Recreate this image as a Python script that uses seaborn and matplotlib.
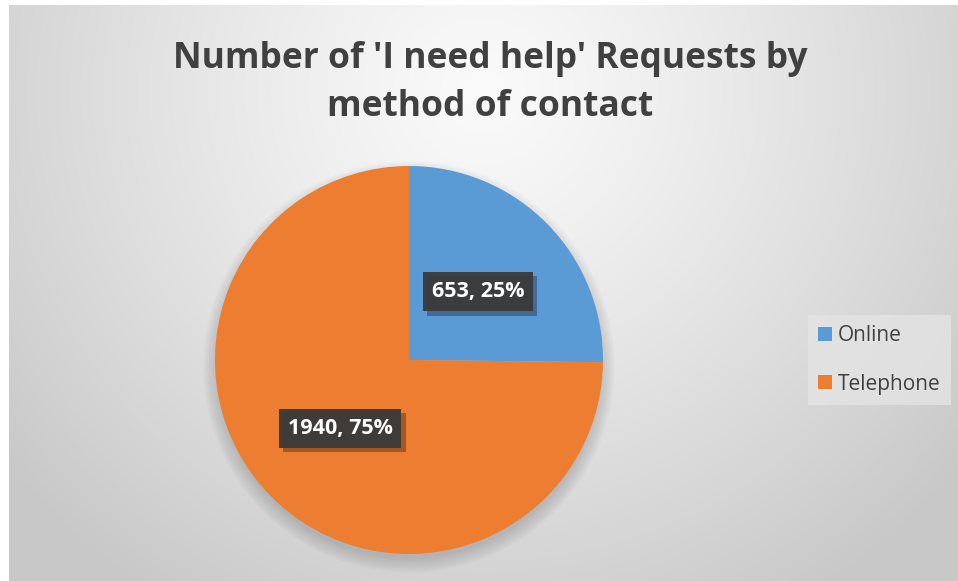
import numpy as np
import matplotlib
matplotlib.use("Agg")
import matplotlib.pyplot as plt
import matplotlib.patheffects as pe
from matplotlib.patches import Circle, Rectangle
import seaborn as sns

# ---- data ----
categories = ["Online", "Telephone"]
counts = [653, 1940]
colors = ["#5B9BD5", "#ED7D31"]
title = "Number of 'I need help' Requests by\nmethod of contact"

sns.set_theme(style="white")
plt.rcParams['font.family'] = ['Open Sans', 'DejaVu Sans']

W, H = 958, 581
fig = plt.figure(figsize=(W / 100, H / 100), dpi=100)
fig.patch.set_facecolor("white")

# background gradient panel
bg = fig.add_axes([9 / W, 0, 1 - 9 / W, 1 - 5 / H])
bg.set_axis_off()
yy, xx = np.mgrid[0:1:300j, 0:1:500j]
d = np.sqrt(((xx - 0.5) / 0.65) ** 2 + ((yy - 0.15) / 1.05) ** 2)
val = 250 - 50 * np.clip(d, 0, 1) ** 1.2
img = np.dstack([val, val, val]) / 255.0
bg.imshow(img, origin="upper", aspect="auto", extent=[0, 1, 0, 1], interpolation="bilinear")
bg.set_xlim(0, 1)
bg.set_ylim(0, 1)

# title
fig.text(490 / W, 1 - 83 / H, title, ha="center", va="center",
         fontsize=25.5, fontweight="bold", color="#404040", linespacing=1.42)

# pie
cx, cy, r = 409, H - 360, 194
ax = fig.add_axes([(cx - r * 1.1) / W, (cy - r * 1.1) / H, 2.2 * r / W, 2.2 * r / H])
ax.set_axis_off()

# soft shadow (mostly below the pie)
for i in range(8):
    ax.add_patch(Circle((0.0, -0.035), 0.99 + 0.01 * i, color="black",
                        alpha=0.02, lw=0, zorder=0))

total = sum(counts)


def fmt(p):
    v = int(round(p * total / 100))
    return f"{v}, {p:.0f}%"


_, _, autotexts = ax.pie(counts, colors=colors, startangle=90, counterclock=False,
                         radius=1.0, wedgeprops=dict(linewidth=0),
                         autopct=fmt, pctdistance=0.5,
                         textprops=dict(color="white", fontsize=15.5, fontweight="bold"))
ax.set_xlim(-1.1, 1.1)
ax.set_ylim(-1.1, 1.1)
for t in autotexts:
    t.set_bbox(dict(boxstyle="square,pad=0.42", facecolor="#3a3a3a", edgecolor="none", alpha=0.95))
    t.get_bbox_patch().set_path_effects([pe.withSimplePatchShadow(offset=(3, -3), alpha=0.3, shadow_rgbFace="black")])

# legend
handles = [Rectangle((0, 0), 1, 1, facecolor=c, edgecolor="none") for c in colors]
leg = fig.legend(handles, categories, loc="center left",
                 bbox_to_anchor=(808 / W, 1 - 360 / H), frameon=True,
                 fontsize=15, handlelength=0.65, handleheight=0.65, handletextpad=0.3,
                 labelspacing=1.3, borderpad=0.5, borderaxespad=0, labelcolor="#404040")
leg.get_frame().set_facecolor("#e4e4e4")
leg.get_frame().set_edgecolor("none")
leg.get_frame().set_alpha(0.8)
leg.get_frame().set_boxstyle("square,pad=0")

fig.savefig("out.png", dpi=100, facecolor=fig.get_facecolor())
